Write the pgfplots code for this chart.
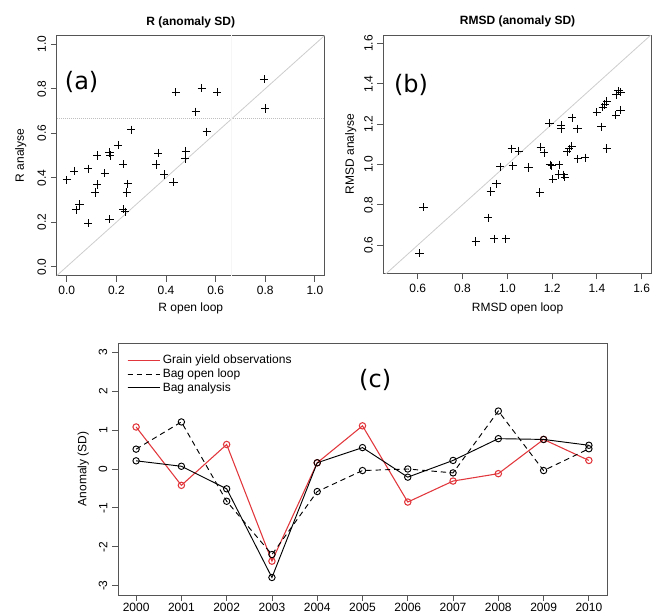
\documentclass[border=0pt]{standalone}
\usepackage{fontspec}
\setmainfont{Liberation Sans}
\newfontfamily\labfont{DejaVu Sans}
\usepackage{pgfplots}
\pgfplotsset{compat=1.18}
\definecolor{obsred}{RGB}{225,55,60}
\definecolor{boxgray}{RGB}{85,85,85}
\definecolor{refgray}{RGB}{205,205,205}
\pgfplotsset{
  rstyle/.style={
    scale only axis,
    anchor=south west,
    axis line style={boxgray, line width=0.6pt},
    tick style={boxgray, line width=0.6pt},
    tick align=outside,
    major tick length=4.5pt,
    xtick pos=bottom, ytick pos=left,
    /pgf/number format/assume math mode=true,
    tick label style={font=\fontsize{9}{10}\selectfont},
    label style={font=\fontsize{9}{10}\selectfont},
    yticklabel style={rotate=90, anchor=south},
    title style={font=\bfseries\fontsize{9}{10}\selectfont},
  },
  plusmark/.style={only marks, mark=+, mark size=3.1pt, mark options={line width=0.75pt, black}},
}
\begin{document}
\begin{tikzpicture}
\useasboundingbox (0,0) rectangle (493.5pt,460.5pt);
% ---------------- panel (a)
\begin{axis}[rstyle,
  at={(42.6pt,253.8pt)}, width=201pt, height=180.2pt,
  xmin=-0.04, xmax=1.04, ymin=-0.04, ymax=1.04,
  xtick={0,0.2,0.4,0.6,0.8,1.0}, xticklabels={0.0,0.2,0.4,0.6,0.8,1.0},
  ytick={0,0.2,0.4,0.6,0.8,1.0}, yticklabels={0.0,0.2,0.4,0.6,0.8,1.0},
  title={R (anomaly SD)},
  title style={at={(axis description cs:0.5,1)}, anchor=center, yshift=3.8pt},
  xlabel={R open loop},
  xlabel style={at={([yshift=-24.3pt]axis description cs:0.5,0)}, anchor=center},
  ylabel={R analyse},
  ylabel style={at={([xshift=-27.1pt]axis description cs:0,0.5)}, anchor=center},
]
\addplot[refgray, line width=0.6pt] coordinates {(-0.04,-0.04) (1.04,1.04)};
\addplot[gray!50, line width=0.5pt, densely dotted] coordinates {(-0.04,0.665) (1.04,0.665)};
\addplot[gray!7, line width=0.5pt] coordinates {(0.665,-0.04) (0.665,1.04)};
\addplot[plusmark] coordinates {
(0.000,0.390) (0.030,0.430) (0.038,0.255) (0.051,0.280) (0.087,0.440) (0.087,0.195)
(0.123,0.500) (0.123,0.370) (0.114,0.333) (0.154,0.420) (0.172,0.513) (0.175,0.500)
(0.172,0.213) (0.207,0.546) (0.228,0.460) (0.246,0.372) (0.242,0.333) (0.228,0.258)
(0.235,0.247) (0.260,0.616) (0.361,0.459) (0.369,0.511) (0.393,0.414) (0.430,0.380)
(0.440,0.784) (0.477,0.486) (0.480,0.520) (0.520,0.697) (0.544,0.802) (0.564,0.606)
(0.607,0.784) (0.795,0.843) (0.800,0.711)
};
\node[font=\labfont\fontsize{18}{18}\selectfont] at (axis cs:0.06,0.832) {(a)};
\end{axis}
% ---------------- panel (b)
\begin{axis}[rstyle,
  at={(287.5pt,255.5pt)}, width=201.3pt, height=178.7pt,
  xmin=0.446, xmax=1.645, ymin=0.46, ymax=1.641,
  xtick={0.6,0.8,1.0,1.2,1.4,1.6}, xticklabels={0.6,0.8,1.0,1.2,1.4,1.6},
  ytick={0.6,0.8,1.0,1.2,1.4,1.6}, yticklabels={0.6,0.8,1.0,1.2,1.4,1.6},
  title={RMSD (anomaly SD)},
  title style={at={(axis description cs:0.5,1)}, anchor=center, yshift=4.6pt},
  xlabel={RMSD open loop},
  xlabel style={at={([yshift=-26pt]axis description cs:0.5,0)}, anchor=center},
  ylabel={RMSD analyse},
  ylabel style={at={([xshift=-24.5pt]axis description cs:0,0.5)}, anchor=center},
]
\addplot[refgray, line width=0.6pt] coordinates {(0.4,0.4) (1.7,1.7)};
\addplot[plusmark] coordinates {
(0.607,0.559) (0.625,0.788) (0.859,0.618) (0.915,0.735) (0.942,0.631) (0.993,0.631)
(0.926,0.866) (0.951,0.904) (0.968,0.988) (1.020,1.078) (1.024,0.993) (1.051,1.066)
(1.094,0.985) (1.145,0.860) (1.149,1.086) (1.164,1.058) (1.188,1.205) (1.191,0.998)
(1.198,0.993) (1.203,0.926) (1.232,0.998) (1.230,0.950) (1.241,1.193) (1.241,1.177)
(1.253,0.949) (1.256,0.936) (1.268,1.063) (1.277,1.078) (1.288,1.091) (1.290,1.231)
(1.313,1.177) (1.314,1.028) (1.347,1.033) (1.399,1.258) (1.421,1.187) (1.426,1.283)
(1.436,1.297) (1.444,1.312) (1.444,1.079) (1.488,1.347) (1.496,1.364) (1.485,1.243)
(1.506,1.269) (1.506,1.357)
};
\node[font=\labfont\fontsize{18}{18}\selectfont] at (axis cs:0.57,1.393) {(b)};
\end{axis}
% ---------------- panel (c)
\begin{axis}[rstyle,
  at={(88.5pt,14.25pt)}, width=366.75pt, height=189pt,
  xmin=1999.6, xmax=2010.4, ymin=-3.24, ymax=3.24,
  xtick={2000,2001,...,2010},
  xticklabels={2000,2001,2002,2003,2004,2005,2006,2007,2008,2009,2010},
  xticklabel style={yshift=2.2pt},
  ytick={-3,-2,-1,0,1,2,3}, yticklabels={-3,-2,-1,0,1,2,3},
  ylabel={Anomaly (SD)},
  ylabel style={at={([xshift=-26pt]axis description cs:0,0.5)}, anchor=center},
  legend style={draw=none, fill=none, at={(axis description cs:0.018,0.965)}, anchor=north west,
    font=\fontsize{9}{10}\selectfont, row sep=-1.6pt, inner sep=0pt},
  legend cell align=left,
  legend image code/.code={\draw[#1] (0pt,0pt) -- (15pt,0pt); \path (0pt,0pt) -- (24pt,0pt);},
  mark size=2.4pt,
]
\addplot[obsred, line width=0.8pt, mark=o, mark options={solid}] coordinates {
(2000,1.08) (2001,-0.42) (2002,0.63) (2003,-2.37) (2004,0.16) (2005,1.11)
(2006,-0.85) (2007,-0.31) (2008,-0.12) (2009,0.76) (2010,0.22)};
\addlegendentry{Grain yield observations}
\addplot[black, line width=0.7pt, dashed, dash pattern=on 4pt off 3pt, mark=o, mark options={solid}] coordinates {
(2000,0.51) (2001,1.21) (2002,-0.83) (2003,-2.20) (2004,-0.58) (2005,-0.04)
(2006,0.00) (2007,-0.10) (2008,1.49) (2009,-0.04) (2010,0.52)};
\addlegendentry{Bag open loop}
\addplot[black, line width=0.7pt, mark=o, mark options={solid}] coordinates {
(2000,0.21) (2001,0.07) (2002,-0.51) (2003,-2.79) (2004,0.16) (2005,0.55)
(2006,-0.21) (2007,0.22) (2008,0.78) (2009,0.76) (2010,0.61)};
\addlegendentry{Bag analysis}
\node[font=\labfont\fontsize{18}{18}\selectfont] at (axis cs:2005.28,2.29) {(c)};
\end{axis}
\end{tikzpicture}
\end{document}
